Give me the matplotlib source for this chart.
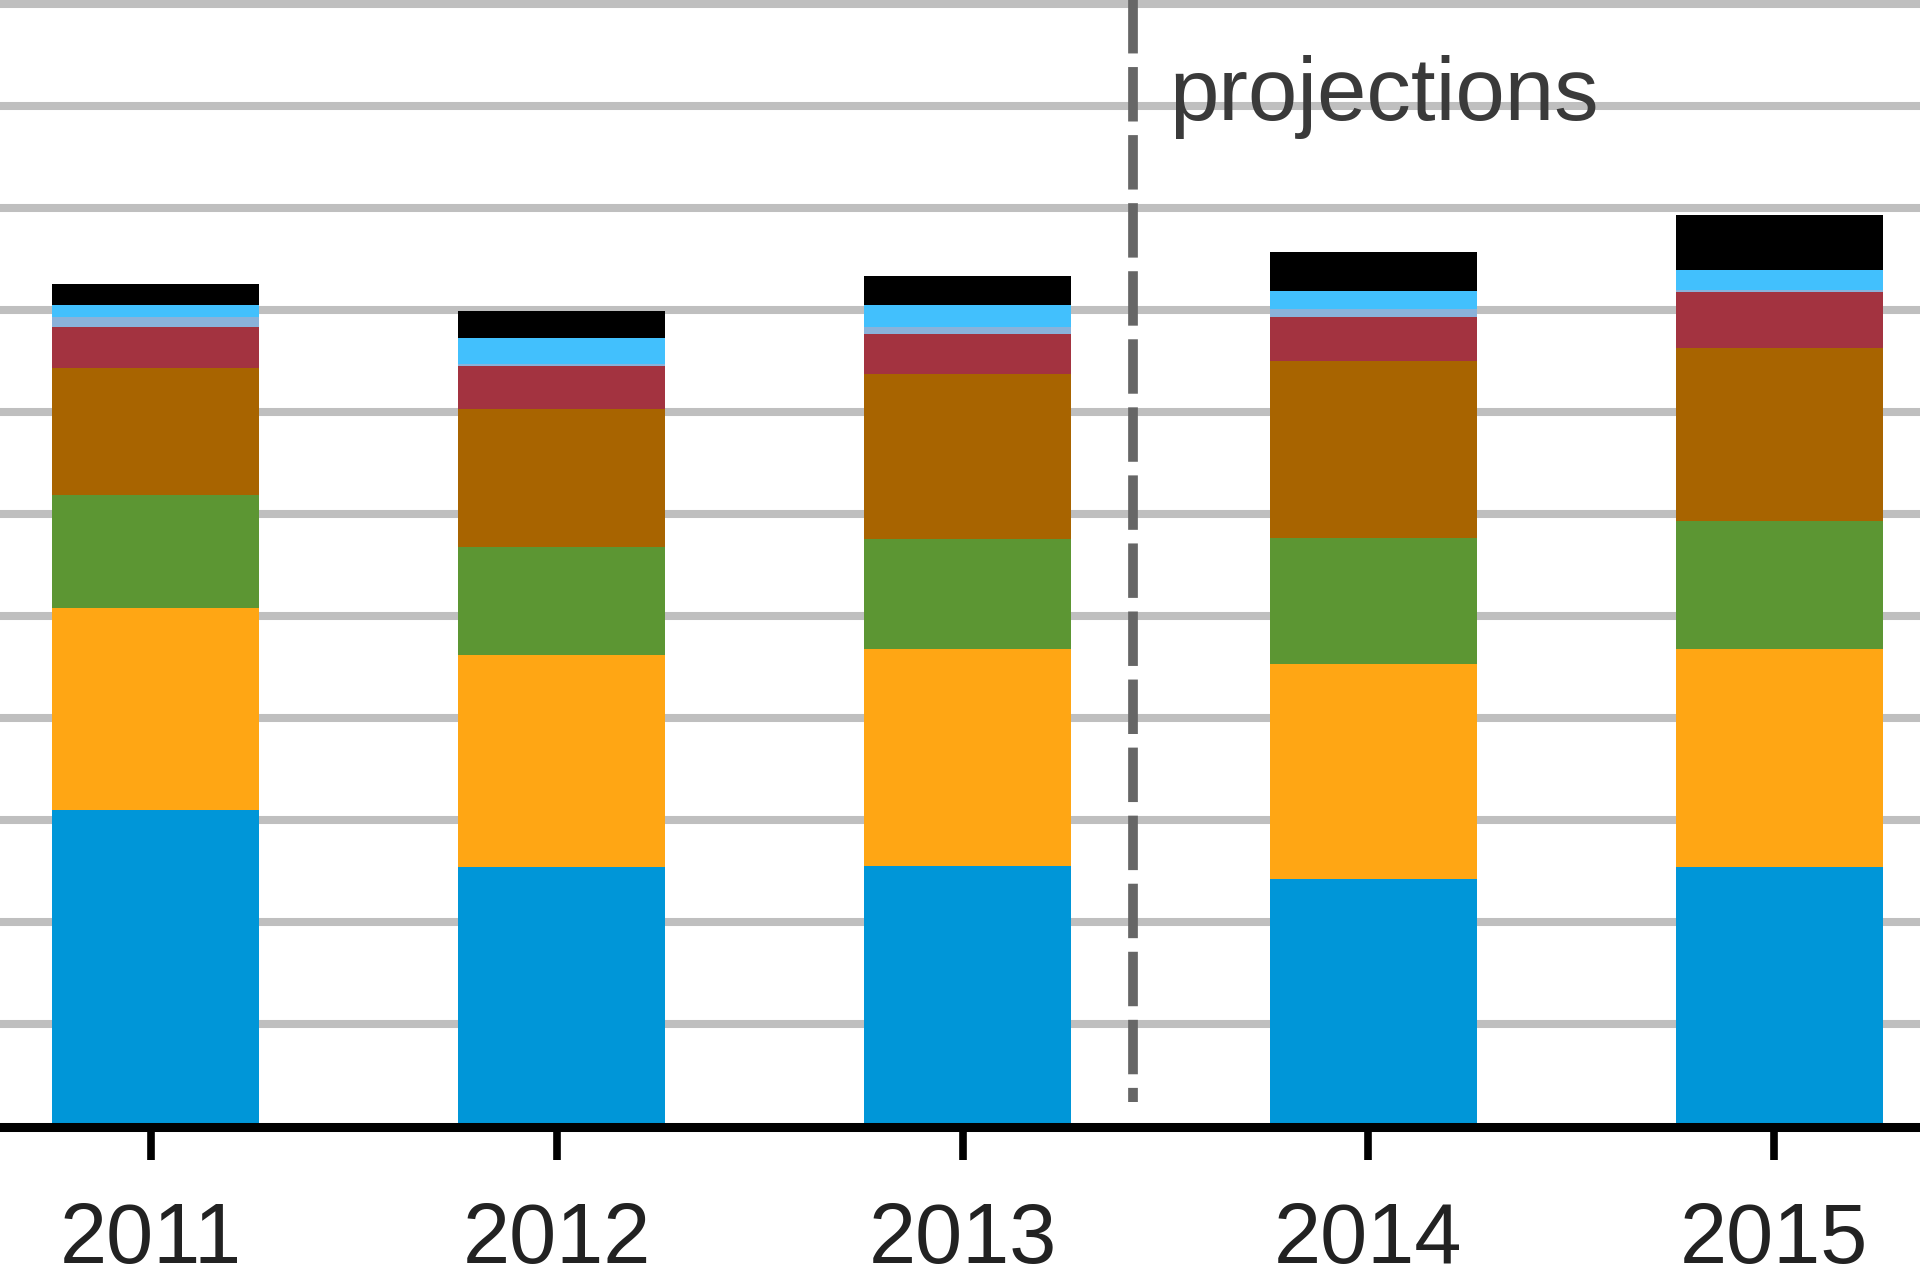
import matplotlib
matplotlib.use("Agg")
import matplotlib.pyplot as plt
import numpy as np

plt.rcParams["font.family"] = ["Liberation Sans", "DejaVu Sans"]

YEARS = ["2011", "2012", "2013", "2014", "2015"]

# stacked segments, bottom to top (units of one gridline)
BLUE = [3.10, 2.54, 2.55, 2.43, 2.54]
ORANGE = [1.98, 2.08, 2.13, 2.10, 2.14]
GREEN = [1.11, 1.06, 1.08, 1.24, 1.25]
BROWN = [1.24, 1.35, 1.61, 1.73, 1.70]
RED = [0.41, 0.42, 0.40, 0.43, 0.55]
STEEL = [0.09, 0.02, 0.07, 0.08, 0.02]
CYAN = [0.12, 0.26, 0.21, 0.18, 0.19]
BLACK = [0.21, 0.26, 0.29, 0.38, 0.54]

SERIES = [BLUE, ORANGE, GREEN, BROWN, RED, STEEL, CYAN, BLACK]
COLORS = ["#0096d8", "#ffa614", "#5c9633", "#a86400", "#a33340", "#8ab2da", "#42c0fd", "#000000"]

PROJ_X = 2.42
PROJ_LABEL = "projections"


def main():
    fig = plt.figure(figsize=(19.2, 12.84), dpi=100)
    bottom_frac = (1284 - 1126.5) / 1284.0
    ax = fig.add_axes([0, bottom_frac, 1, 1 - bottom_frac])

    x = np.arange(len(YEARS))
    base = np.zeros(len(YEARS))
    for vals, color in zip(SERIES, COLORS):
        ax.bar(x + 0.012, vals, 0.51, bottom=base, color=color, linewidth=0, zorder=2)
        base += np.array(vals)

    ymax = 11.04
    ax.set_xlim(-0.372, 4.359)
    ax.set_ylim(0, ymax)
    ax.set_yticks(range(1, 12))
    ax.yaxis.grid(True, color="#bfbfbf", linewidth=5.8)
    ax.set_axisbelow(True)
    ax.tick_params(axis="y", length=0, labelleft=False)

    for side in ["left", "right", "top"]:
        ax.spines[side].set_visible(False)
    ax.spines["bottom"].set_linewidth(6.5)
    ax.spines["bottom"].set_color("black")
    ax.spines["bottom"].set_zorder(5)

    ax.set_xticks(x)
    ax.set_xticklabels(YEARS)
    ax.tick_params(axis="x", length=24, width=5.5, color="black", pad=30,
                   labelsize=61, labelcolor="#222222", direction="out")

    ax.plot([PROJ_X, PROJ_X], [ymax + 0.05, 0.24], color="#666666", linewidth=7,
            linestyle=(0, (5.6, 1.4)), zorder=3, clip_on=False)
    ax.text(2.508, 9.863, PROJ_LABEL, fontsize=64, ha="left", va="baseline",
            color="#3a3a3a", zorder=4)

    fig.savefig("out.png", dpi=100)
    plt.close(fig)


if __name__ == "__main__":
    main()
